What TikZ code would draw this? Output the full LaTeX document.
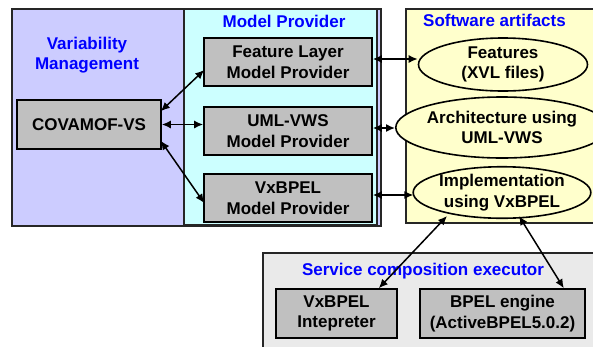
\documentclass[tikz,border=0pt]{standalone}
\usepackage{fontspec}
\setmainfont{Liberation Sans}
\usetikzlibrary{arrows.meta,calc,shapes.geometric}
\definecolor{lav}{HTML}{CCCCFF}
\definecolor{cyanbg}{HTML}{CCFFFF}
\definecolor{yelbg}{HTML}{FFFFCC}
\definecolor{boxgray}{HTML}{C0C0C0}
\definecolor{lgray}{HTML}{EAEAEA}
\definecolor{ttl}{HTML}{0000FF}
\tikzset{
  txt/.style={font=\fontsize{17}{20.5}\selectfont\bfseries, align=center},
  gbox/.style={txt, draw=black, line width=1.6pt, fill=boxgray, inner sep=0pt},
  ell/.style={txt, ellipse, draw=black, line width=1.6pt, fill=yelbg, inner sep=0pt},
  ttlstyle/.style={txt, text=ttl},
  cont/.style={draw=black!85, line width=1.8pt},
  arr/.style={line width=1.5pt, {Latex[length=9pt,width=8pt]}-{Latex[length=9pt,width=8pt]}},
}
\begin{document}
\begin{tikzpicture}[x=1pt,y=-1pt]
\useasboundingbox (0,0) rectangle (593,346);
% containers
\draw[cont, fill=lav] (12,9) rectangle (381,226);
\draw[cont, fill=cyanbg] (184,9) rectangle (377,225);
\draw[cont, fill=yelbg] (406,9) rectangle (600,223);
\draw[cont, fill=lgray] (263,253) rectangle (600,352);
% titles
\node[ttlstyle] (tvm) at (87,55) {Variability\\Management};
\node[ttlstyle] (tmp) at (284,21) {Model Provider};
\node[ttlstyle] (tsa) at (494.5,20) {Software artifacts};
\node[ttlstyle] (tsc) at (423,271) {Service composition executor};
% boxes
\node[gbox, minimum width=144pt, minimum height=49pt] (cov) at (89,124.5) {COVAMOF-VS};
\node[gbox, minimum width=168pt, minimum height=48pt] (fl) at (288,62) {Feature Layer\\Model Provider};
\node[gbox, minimum width=168pt, minimum height=48pt] (uml) at (288,131) {UML-VWS\\Model Provider};
\node[gbox, minimum width=168pt, minimum height=48pt] (vx) at (288,198) {VxBPEL\\Model Provider};
\node[gbox, minimum width=121pt, minimum height=49pt] (intp) at (336.5,313.5) {VxBPEL\\Intepreter};
\node[gbox, minimum width=165pt, minimum height=49pt] (bpel) at (502.5,313.5) {BPEL engine\\(ActiveBPEL5.0.2)};
% ellipses
\node[ell, minimum width=169pt, minimum height=53pt] (feat) at (503,64.5) {Features\\(XVL files)};
\node[ell, minimum width=166pt, minimum height=61pt] (arch) at (502,127.5) {Architecture using\\UML-VWS};
\node[ell, minimum width=170pt, minimum height=45pt] (impl) at (502,192.5) {Implementation\\using VxBPEL};
% arrows left
\draw[arr] ($(cov.north east)+(-1,12)$) -- ($(fl.west)+(1,8)$);
\draw[arr] (cov.east) -- (uml.west |- cov.east);
\draw[arr] ($(cov.south east)+(-1,-9)$) -- ($(vx.west)+(1,5)$);
% arrows right
\draw[arr] ($(fl.east)+(0,-3)$) -- (feat.west |- {$(fl.east)+(0,-3)$});
\draw[arr] ($(uml.east)+(0,-3)$) -- (arch.west |- {$(uml.east)+(0,-3)$});
\draw[arr] ($(vx.east)+(0,-3)$) -- ($(impl.west)+(1,2.5)$);
% arrows bottom
\draw[arr] ($(impl.south)+(-55,-3)$) -- ($(intp.north east)+(-19,0)$);
\draw[arr] ($(impl.south)+(17,-3)$) -- ($(bpel.north east)+(-22,0)$);
\end{tikzpicture}
\end{document}
